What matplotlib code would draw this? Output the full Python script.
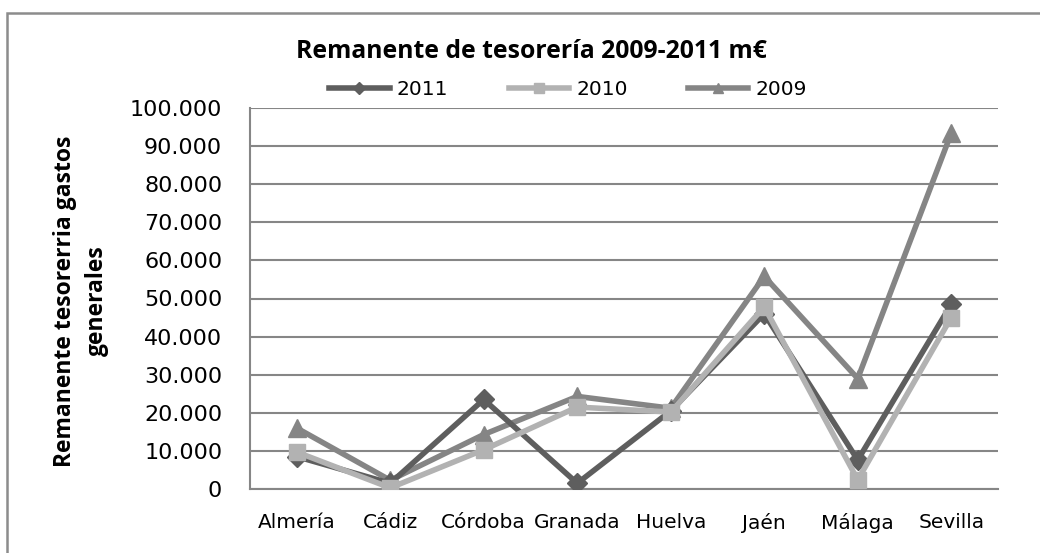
import matplotlib
matplotlib.use("Agg")
import matplotlib.pyplot as plt
from matplotlib.patches import Rectangle
from matplotlib.ticker import FuncFormatter

categories = ["Almería", "Cádiz", "Córdoba", "Granada", "Huelva", "Jaén", "Málaga", "Sevilla"]
v2011 = [8500, 1500, 23500, 1500, 20500, 46000, 7600, 48500]
v2010 = [9700, 300, 10300, 21500, 20200, 47800, 2400, 45000]
v2009 = [16000, 2300, 14300, 24300, 21200, 55800, 29000, 93400]
yticks = list(range(0, 100001, 10000))

fig = plt.figure(figsize=(10.4, 5.53), dpi=100)
fig.patches.append(Rectangle((7/1040, -0.1), 1.2, 1 - 13/553 + 0.1, transform=fig.transFigure,
                             fill=False, edgecolor="#8c8c8c", linewidth=1.8))
ax = fig.add_axes([250/1040, 1 - 489/553, 748/1040, (489 - 108)/553])

x = list(range(len(categories)))
lw = 4
ax.plot(x, v2011, color="#5e5e5e", lw=lw, marker="D", ms=10, label="2011", zorder=3)
ax.plot(x, v2010, color="#b2b2b2", lw=lw, marker="s", ms=12, label="2010", zorder=4)
ax.plot(x, v2009, color="#858585", lw=lw, marker="^", ms=13, label="2009", zorder=2)

ax.set_xlim(-0.5, len(categories) - 0.5)
ax.set_ylim(0, 100000)
ax.set_yticks(yticks)
ax.yaxis.set_major_formatter(FuncFormatter(lambda v, p: f"{int(v):,}".replace(",", ".")))
ax.set_xticks(x)
ax.set_xticklabels(categories, fontfamily="DejaVu Sans", fontsize=14.5)
for lab in ax.get_yticklabels():
    lab.set_fontfamily("DejaVu Sans")
    lab.set_fontsize(16)
ax.tick_params(axis="both", length=0)
ax.tick_params(axis="y", pad=20)
ax.tick_params(axis="x", pad=17)
ax.grid(axis="y", color="#868686", lw=1.5)
ax.set_axisbelow(True)
for s in ["top", "right"]:
    ax.spines[s].set_visible(False)
ax.spines["bottom"].set_color("#868686")
ax.spines["bottom"].set_linewidth(1.5)
ax.spines["left"].set_color("#868686")
ax.spines["left"].set_linewidth(1.5)

fig.text(531/1040, 1 - 52/553, "Remanente de tesorería 2009-2011 m€", ha="center", va="center",
         fontsize=17.8, fontweight="bold", fontfamily="Open Sans")
fig.text(81/1040, 1 - 301/553, "Remanente tesorerria gastos\ngenerales", ha="center", va="center",
         rotation=90, fontsize=16.5, fontweight="bold", fontfamily="Open Sans", linespacing=1.4)

leg = ax.legend(loc="center", bbox_to_anchor=(568/1040, 1 - 90/553), bbox_transform=fig.transFigure,
                ncol=3, frameon=False, prop={"family": "DejaVu Sans", "size": 14.5},
                handlelength=3.0, columnspacing=3.0, handletextpad=0.35, markerscale=0.6)

fig.savefig("out.png", dpi=100)
